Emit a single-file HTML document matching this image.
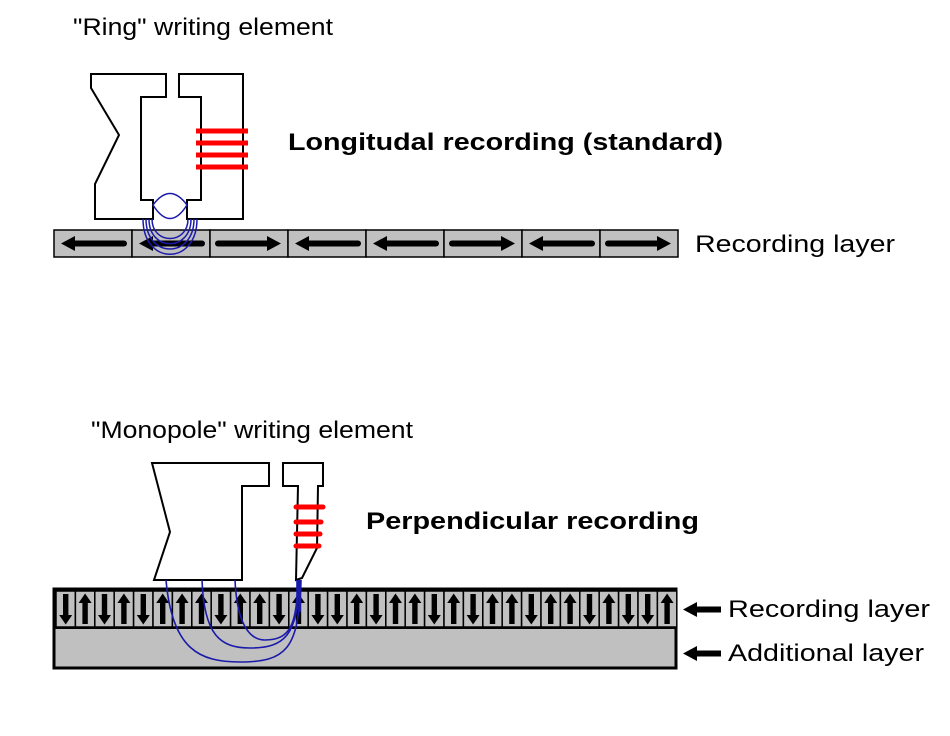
<!DOCTYPE html>
<html><head><meta charset="utf-8"><style>
html,body{margin:0;padding:0;background:#fff;}
svg{display:block;}
text{font-family:"Liberation Sans",sans-serif;fill:#000;}
</style></head><body>
<svg width="950" height="736" viewBox="0 0 950 736" xmlns="http://www.w3.org/2000/svg">
<defs>
<g id="U"><rect x="0" y="0" width="19.4" height="36" fill="#c0c0c0" stroke="#000" stroke-width="1.5"/><rect x="7" y="10" width="5.4" height="23" fill="#000"/><polygon points="3.2,12 16.2,12 9.7,2.5" fill="#000"/></g>
<g id="D"><rect x="0" y="0" width="19.4" height="36" fill="#c0c0c0" stroke="#000" stroke-width="1.5"/><rect x="7" y="3" width="5.4" height="23" fill="#000"/><polygon points="3.2,24 16.2,24 9.7,33.5" fill="#000"/></g>
<g id="L"><rect x="0" y="0" width="78" height="27" fill="#c0c0c0" stroke="#000" stroke-width="1.5"/><line x1="18" y1="13.5" x2="70" y2="13.5" stroke="#000" stroke-width="6" stroke-linecap="round"/><polygon points="7,13.5 21,6 21,21" fill="#000"/></g>
<g id="R"><rect x="0" y="0" width="78" height="27" fill="#c0c0c0" stroke="#000" stroke-width="1.5"/><line x1="8" y1="13.5" x2="60" y2="13.5" stroke="#000" stroke-width="6" stroke-linecap="round"/><polygon points="71,13.5 57,6 57,21" fill="#000"/></g>
</defs>

<text x="73" y="35" font-size="24" textLength="260" lengthAdjust="spacingAndGlyphs">"Ring" writing element</text>
<text x="288" y="150" font-size="24" font-weight="bold" textLength="435" lengthAdjust="spacingAndGlyphs">Longitudal recording (standard)</text>
<text x="695" y="252" font-size="24" textLength="200" lengthAdjust="spacingAndGlyphs">Recording layer</text>

<g transform="translate(0,230)">
<use href="#L" x="54"/><use href="#L" x="132"/><use href="#R" x="210"/><use href="#L" x="288"/><use href="#L" x="366"/><use href="#R" x="444"/><use href="#L" x="522"/><use href="#R" x="600"/>
</g>

<polygon points="91,74 166,74 166,97 141,97 141,200 153,200 153,219 95,219 95,184 119,135 91,88" fill="#fff" stroke="#000" stroke-width="2"/>
<polygon points="179,74 243,74 243,219 187,219 187,200 201,200 201,97 179,97" fill="#fff" stroke="#000" stroke-width="2"/>
<g stroke="#ff0000" stroke-width="5">
<line x1="196" y1="131" x2="248" y2="131"/><line x1="196" y1="143" x2="248" y2="143"/><line x1="196" y1="155" x2="248" y2="155"/><line x1="196" y1="167" x2="248" y2="167"/>
</g>
<g fill="none" stroke="#1a1aaa" stroke-width="1.5">
<path d="M153,205 Q170,182 187,205 Q170,232 153,205 Z"/>
<path d="M143,219 C143,266 197,266 197,219"/>
<path d="M146,219 C146,259 194,259 194,219"/>
<path d="M149,219 C149,252 191,252 191,219"/>
<path d="M152,219 C152,245 188,245 188,219"/>
</g>

<text x="91" y="438" font-size="24" textLength="322" lengthAdjust="spacingAndGlyphs">"Monopole" writing element</text>
<text x="366" y="529" font-size="24" font-weight="bold" textLength="333" lengthAdjust="spacingAndGlyphs">Perpendicular recording</text>
<text x="728" y="617" font-size="24" textLength="202" lengthAdjust="spacingAndGlyphs">Recording layer</text>
<text x="728" y="661" font-size="24" textLength="196" lengthAdjust="spacingAndGlyphs">Additional layer</text>
<g fill="#000">
<rect x="694" y="606.5" width="27" height="6"/><polygon points="683,609.5 697,602 697,617"/>
<rect x="694" y="650.5" width="27" height="6"/><polygon points="683,653.5 697,646 697,661"/>
</g>

<rect x="54" y="589" width="622" height="79" fill="#c0c0c0" stroke="#000" stroke-width="3"/>
<g transform="translate(0,591)">
<use href="#D" x="56"/><use href="#U" x="75.4"/><use href="#D" x="94.8"/><use href="#U" x="114.2"/><use href="#D" x="133.6"/><use href="#U" x="153"/><use href="#U" x="172.4"/><use href="#U" x="191.8"/>
<use href="#D" x="211.2"/><use href="#U" x="230.6"/><use href="#U" x="250"/><use href="#D" x="269.4"/><use href="#U" x="288.8"/><use href="#D" x="308.2"/><use href="#D" x="327.6"/><use href="#U" x="347"/>
<use href="#D" x="366.4"/><use href="#U" x="385.8"/><use href="#U" x="405.2"/><use href="#D" x="424.6"/><use href="#U" x="444"/><use href="#D" x="463.4"/><use href="#U" x="482.8"/><use href="#U" x="502.2"/>
<use href="#D" x="521.6"/><use href="#U" x="541"/><use href="#U" x="560.4"/><use href="#D" x="579.8"/><use href="#U" x="599.2"/><use href="#D" x="618.6"/><use href="#D" x="638"/><use href="#U" x="657.4"/>
</g>
<line x1="54" y1="628" x2="676" y2="628" stroke="#000" stroke-width="2"/>

<polygon points="152,463 269,463 269,486 242,486 242,580 154,580 170,532" fill="#fff" stroke="#000" stroke-width="2"/>
<polygon points="283,463 323,463 323,486 318,486 317,548 302,578 296,580 298,486 283,486" fill="#fff" stroke="#000" stroke-width="2"/>
<g stroke="#ff0000" stroke-width="5" stroke-linecap="round">
<line x1="296" y1="507" x2="323" y2="507"/><line x1="296" y1="522" x2="321" y2="522"/><line x1="296" y1="534" x2="320" y2="534"/><line x1="296" y1="546" x2="319" y2="546"/>
</g>
<g fill="none" stroke="#1a1aaa" stroke-width="1.6">
<path d="M166,580 C172,650 200,662 240,662 C285,662 300,650 300,580"/>
<path d="M202,580 C204,635 220,648 250,648 C285,648 298,635 299,580"/>
<path d="M235,580 C237,625 250,640 265,640 C290,640 297,625 298,580"/>
<path d="M297,580 L297,610 M301,580 L300,612"/>
</g>
</svg>
</body></html>
